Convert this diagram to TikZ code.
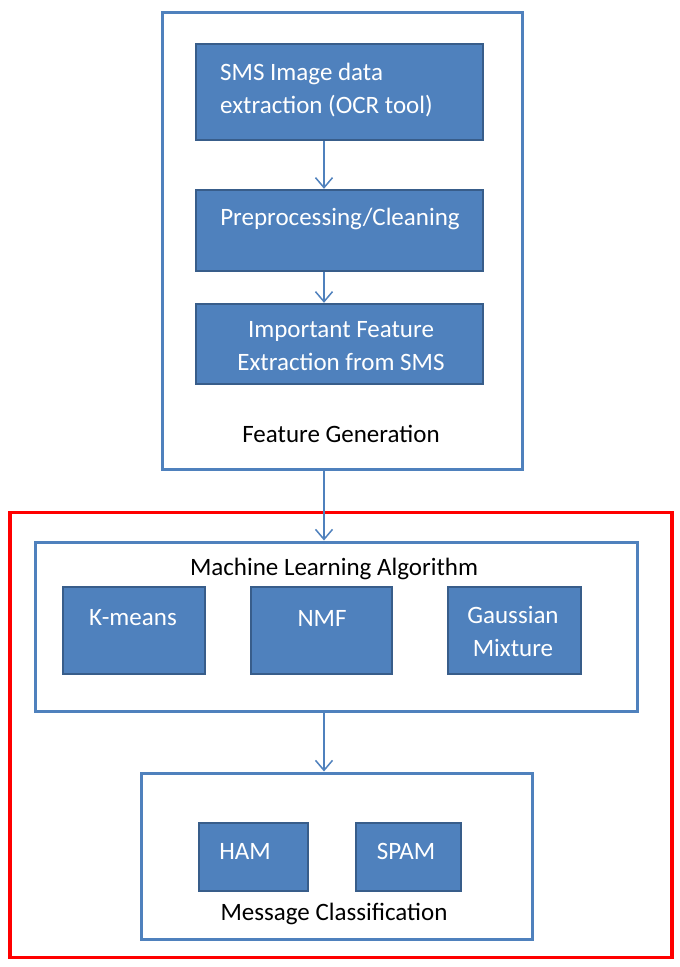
\documentclass[tikz,border=0pt]{standalone}
\usepackage{fontspec}
\setmainfont{Carlito}
\usetikzlibrary{arrows.meta}
\definecolor{fillb}{HTML}{4F81BD}
\definecolor{edgeb}{HTML}{385D8A}
\definecolor{lineb}{HTML}{4F81BD}
\definecolor{redf}{HTML}{FF0000}
\begin{document}
\begin{tikzpicture}[x=1pt,y=-1pt,
  blockbox/.style={draw=edgeb,fill=fillb,line width=2.4pt,rectangle,inner sep=0pt},
  framebox/.style={draw=lineb,line width=3pt,rectangle,inner sep=0pt},
  redbox/.style={draw=redf,line width=3.2pt,rectangle,inner sep=0pt},
  wtext/.style={text=white,font=\fontsize{25}{33}\selectfont,inner sep=0pt},
  ktext/.style={text=black,font=\fontsize{25}{33}\selectfont,inner sep=0pt},
  arr/.style={draw=lineb,line width=1.5pt,-{Straight Barb[length=10pt,width=17pt,line width=1.5pt]}}
]
\useasboundingbox[fill=white] (0,0) rectangle (680,967);
\coordinate (ax) at (324,0);

% Feature generation
\node[framebox,minimum width=360,minimum height=457] (fg) at (342,240.5) {};
\node[blockbox,minimum width=287,minimum height=96] (b1) at (339.5,92) {};
\node[blockbox,minimum width=287,minimum height=81] (b2) at (339.5,230.5) {};
\node[blockbox,minimum width=287,minimum height=80] (b3) at (339.5,344) {};
\node[wtext,anchor=west,align=left] (t1) at (220,90) {SMS Image data\\extraction (OCR tool)};
\node[wtext] (t2) at (340,219) {Preprocessing/Cleaning};
\node[wtext,align=center] (t3) at (341,346) {Important Feature\\Extraction from SMS};
\node[ktext] (tfg) at (341,434) {Feature Generation};

% Red region
\node[redbox,minimum width=662,minimum height=445] (rb) at (341,735) {};
\node[framebox,minimum width=602,minimum height=169] (ml) at (336,626.5) {};
\node[ktext] (tml) at (334,569) {Machine Learning Algorithm};
\node[blockbox,minimum width=142,minimum height=87] (km) at (134,630.5) {};
\node[blockbox,minimum width=141,minimum height=87] (nmf) at (321.5,630.5) {};
\node[blockbox,minimum width=133,minimum height=87] (gm) at (514.5,630.5) {};
\node[wtext] (tkm) at (133,618) {K-means};
\node[wtext] (tnmf) at (322,618) {NMF};
\node[wtext,align=center] (tgm) at (513,631) {Gaussian\\Mixture};

\node[framebox,minimum width=391,minimum height=166] (mc) at (336.5,856) {};
\node[blockbox,minimum width=109,minimum height=68] (ham) at (253.5,857) {};
\node[blockbox,minimum width=105,minimum height=68] (spam) at (408.5,857) {};
\node[wtext] (tham) at (245,851) {HAM};
\node[wtext] (tspam) at (406,851) {SPAM};
\node[ktext] (tmc) at (334,914) {Message Classification};

% Connectors
\draw[arr] (b1.south -| ax) -- (b2.north -| ax);
\draw[arr] (b2.south -| ax) -- (b3.north -| ax);
\draw[arr] (fg.south -| ax) -- (ml.north -| ax);
\draw[arr] (ml.south -| ax) -- (mc.north -| ax);
\end{tikzpicture}
\end{document}
